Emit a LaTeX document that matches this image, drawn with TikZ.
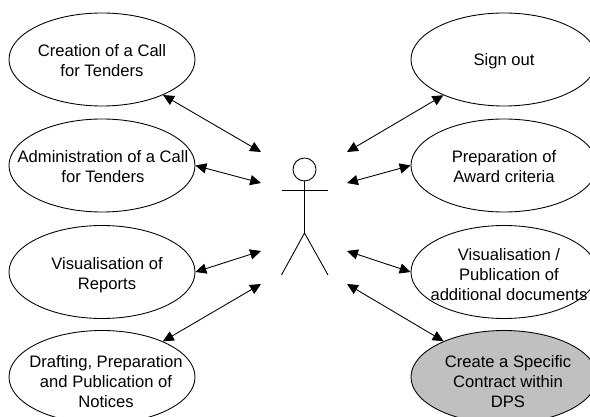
\documentclass[tikz,border=0pt]{standalone}
\usepackage{fontspec}
\setmainfont{Liberation Sans}
\usetikzlibrary{shapes.geometric,arrows.meta}
\tikzset{
  usecase/.style={
    draw=black,ellipse,minimum width=3.72cm,minimum height=1.86cm,inner sep=0pt,line width=0.5pt,
  },
  usetext/.style={
    align=center,inner sep=0pt,font=\fontsize{9.45pt}{11.35pt}\selectfont,
  },
  link/.style={
    {Triangle[length=6.2pt,width=5.8pt]}-{Triangle[length=6.2pt,width=5.8pt]},line width=0.5pt,
  },
}
\begin{document}
\begin{tikzpicture}
    \clip (0,0) rectangle (11.8,8.34);
    % use cases
    \node [usecase] (creation) at (2.04,7.15) {};
    \node [usecase] (admin) at (2.04,5.03) {};
    \node [usecase] (reports) at (2.04,2.90) {};
    \node [usecase] (notices) at (2.04,0.80) {};
    \node [usecase] (signout) at (10.08,7.15) {};
    \node [usecase] (award) at (10.08,5.03) {};
    \node [usecase] (publication) at (10.08,2.90) {};
    \node [usecase,fill={rgb,255:red,192;green,192;blue,192}] (contract) at (10.08,0.80) {};
    % use case labels
    \node [usetext] (tcreation) at (2.04,7.12) {Creation of a Call\\for Tenders};
    \node [usetext] (tadmin) at (2.06,5.00) {Administration of a Call\\for Tenders};
    \node [usetext] (treports) at (2.14,2.84) {Visualisation of\\Reports};
    \node [usetext] (tnotices) at (2.12,0.70) {Drafting, Preparation\\and Publication of\\Notices};
    \node [usetext] (tsignout) at (10.08,7.12) {Sign out};
    \node [usetext] (taward) at (10.08,5.00) {Preparation of\\Award criteria};
    \node [usetext] (tpublication) at (10.18,2.84) {Visualisation /\\Publication of\\additional documents};
    \node [usetext] (tcontract) at (10.16,0.70) {Create a Specific\\Contract within\\DPS};
    % actor
    \node [draw=black,circle,minimum size=0.46cm,inner sep=0pt,line width=0.5pt] (head) at (6.09,4.95) {};
    \coordinate (hip) at (6.09,3.68);
    \coordinate (armL) at (5.63,4.54);
    \coordinate (armR) at (6.56,4.54);
    \coordinate (footL) at (5.63,2.84);
    \coordinate (footR) at (6.56,2.84);
    \draw [line width=0.5pt] (head) -- (hip);
    \draw [line width=0.5pt] (armL) -- (armR);
    \draw [line width=0.5pt] (footL) -- (hip) -- (footR);
    % arrow ends near the actor
    \coordinate (l1) at (5.22,5.30);
    \coordinate (l2) at (5.22,4.68);
    \coordinate (l3) at (5.22,3.32);
    \coordinate (l4) at (5.22,2.66);
    \coordinate (r1) at (6.94,5.30);
    \coordinate (r2) at (6.94,4.68);
    \coordinate (r3) at (6.94,3.32);
    \coordinate (r4) at (6.94,2.66);
    % arrows
    \draw [link] (creation) -- (l1);
    \draw [link] (admin.east) -- (l2);
    \draw [link] (reports.east) -- (l3);
    \draw [link] (notices) -- (l4);
    \draw [link] (signout) -- (r1);
    \draw [link] (award.west) -- (r2);
    \draw [link] (publication.west) -- (r3);
    \draw [link] (contract) -- (r4);
\end{tikzpicture}
\end{document}
